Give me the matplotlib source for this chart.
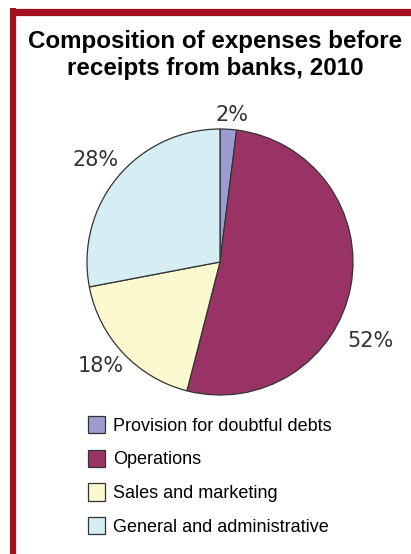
import matplotlib.pyplot as plt
from matplotlib.lines import Line2D
import numpy as np

categories = ["Provision for doubtful debts", "Operations",
              "Sales and marketing", "General and administrative"]
shares = [2, 52, 18, 28]
labels = ["2%", "52%", "18%", "28%"]
colors = ["#9C9CD0", "#993366", "#FCF9CF", "#D4EEF4"]

# label placement (angle in degrees, distance in radii)
label_angle = [85.3, -27.6, -139.1, 140.6]
label_dist = [1.11, 1.28, 1.19, 1.21]

W, H = 411, 554
fig = plt.figure(figsize=(W / 100, H / 100), dpi=100)
fig.patch.set_facecolor("white")

# dark red frame (top and left only)
red = "#A3101F"
fig.add_artist(Line2D([10 / W, 1], [1 - 11.5 / H, 1 - 11.5 / H], color=red,
                      lw=5.2, solid_capstyle="butt"))
fig.add_artist(Line2D([13 / W, 13 / W], [0, 1 - 8 / H], color=red,
                      lw=4.5, solid_capstyle="butt"))

fig.text(215 / W, 1 - 55 / H, "Composition of expenses before\nreceipts from banks, 2010",
         ha="center", va="center", fontsize=17.4, fontweight="bold",
         family="Liberation Sans", linespacing=1.25)

cx, cy, r = 220, 262, 133
ax = fig.add_axes([(cx - r) / W, 1 - (cy + r) / H, 2 * r / W, 2 * r / H])
wedges, _ = ax.pie(shares, colors=colors, startangle=90, counterclock=False,
                   wedgeprops=dict(edgecolor="#333333", linewidth=0.9))
ax.set_xlim(-1, 1)
ax.set_ylim(-1, 1)
ax.set_aspect("equal")
ax.axis("off")

for lab, a, d in zip(labels, label_angle, label_dist):
    t = np.deg2rad(a)
    ax.text(d * np.cos(t), d * np.sin(t), lab, ha="center", va="center",
            fontsize=15, color="#333333", family="DejaVu Sans", clip_on=False)

fig.legend(wedges, categories, loc="upper left",
           bbox_to_anchor=(88 / W, 1 - 416 / H), frameon=False,
           prop={"family": "Liberation Sans", "size": 13},
           handlelength=0.95, handleheight=1.1, handletextpad=0.45,
           labelspacing=0.82, borderpad=0, borderaxespad=0)

fig.savefig("out.png", dpi=100)
